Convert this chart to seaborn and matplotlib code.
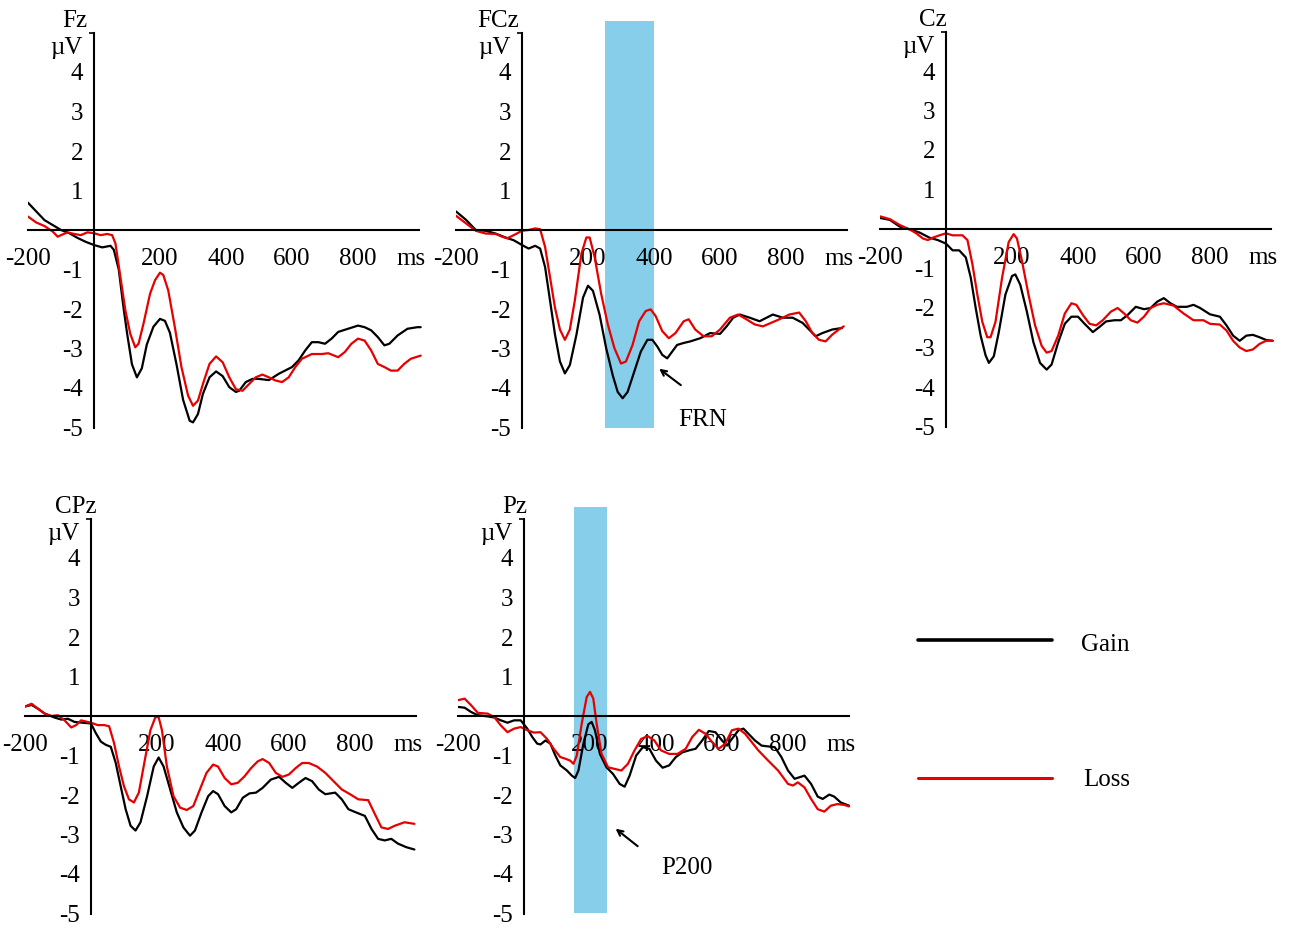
import numpy as np
import matplotlib
matplotlib.use('Agg')
import matplotlib.pyplot as plt
import seaborn as sns

# ---- data (ms, microvolts) ----
fz_gain_t = [-200, -150, -100, -75, -50, -25, 0, 25, 50, 60, 75, 90, 100, 115, 130, 145, 160, 180, 200, 215,
             230, 250, 270, 290, 300, 315, 330, 350, 370, 390, 410, 430, 440, 460, 480, 500, 530, 560, 600,
             620, 640, 660, 680, 700, 720, 740, 770, 800, 820, 840, 860, 880, 895, 920, 950, 980, 990]
fz_gain_v = [0.69, 0.25, 0.0, -0.08, -0.2, -0.3, -0.38, -0.44, -0.4, -0.5, -1.0, -2.0, -2.6, -3.4, -3.73, -3.5,
             -2.9, -2.45, -2.25, -2.3, -2.6, -3.4, -4.3, -4.83, -4.87, -4.66, -4.15, -3.73, -3.58, -3.7, -3.98,
             -4.1, -4.07, -3.85, -3.77, -3.77, -3.8, -3.64, -3.47, -3.3, -3.05, -2.84, -2.84, -2.88, -2.75, -2.58,
             -2.5, -2.42, -2.46, -2.54, -2.71, -2.92, -2.88, -2.67, -2.5, -2.46, -2.46]
fz_loss_t = [-200, -175, -150, -125, -110, -100, -80, -60, -40, -20, 0, 20, 40, 55, 65, 80, 95, 110, 125, 135,
             150, 170, 185, 200, 210, 225, 245, 265, 285, 300, 315, 330, 350, 370, 390, 410, 430, 450, 470, 490,
             510, 530, 550, 570, 590, 610, 630, 660, 690, 710, 740, 760, 780, 800, 820, 840, 860, 880, 900, 920,
             940, 960, 990]
fz_loss_v = [0.34, 0.19, 0.1, -0.04, -0.17, -0.13, -0.06, -0.1, -0.13, -0.06, -0.08, -0.13, -0.1, -0.13, -0.34,
             -1.19, -2.03, -2.63, -2.97, -2.88, -2.37, -1.61, -1.27, -1.08, -1.14, -1.53, -2.46, -3.47, -4.19,
             -4.45, -4.32, -3.9, -3.39, -3.2, -3.35, -3.73, -4.03, -4.07, -3.9, -3.73, -3.66, -3.73, -3.81, -3.85,
             -3.73, -3.47, -3.26, -3.14, -3.14, -3.12, -3.22, -3.09, -2.88, -2.75, -2.8, -3.05, -3.39, -3.47,
             -3.56, -3.56, -3.39, -3.26, -3.18]

fcz_gain_t = [-200, -170, -140, -110, -80, -50, -25, 0, 20, 40, 55, 70, 85, 100, 115, 130, 145, 165, 185, 200,
              215, 235, 255, 275, 290, 305, 320, 340, 360, 380, 395, 410, 425, 440, 455, 470, 490, 510, 540, 570,
              600, 620, 640, 660, 690, 720, 760, 790, 820, 850, 870, 890, 910, 940, 970]
fcz_gain_v = [0.47, 0.26, 0.0, -0.02, -0.09, -0.19, -0.26, -0.38, -0.47, -0.4, -0.47, -0.94, -1.79, -2.65, -3.33,
              -3.63, -3.42, -2.65, -1.71, -1.41, -1.54, -2.14, -2.99, -3.68, -4.1, -4.26, -4.1, -3.59, -3.08,
              -2.78, -2.78, -2.95, -3.16, -3.25, -3.08, -2.91, -2.86, -2.82, -2.74, -2.61, -2.63, -2.44, -2.22,
              -2.14, -2.22, -2.31, -2.14, -2.22, -2.22, -2.35, -2.52, -2.69, -2.61, -2.52, -2.48]
fcz_loss_t = [-200, -170, -140, -110, -80, -60, -45, -25, 0, 20, 40, 55, 70, 85, 100, 115, 130, 145, 160, 180,
              195, 205, 220, 240, 260, 280, 300, 315, 335, 355, 375, 390, 405, 425, 445, 465, 490, 505, 525, 550,
              575, 600, 630, 655, 680, 705, 730, 755, 780, 810, 840, 860, 880, 900, 920, 940, 960, 975]
fcz_loss_v = [0.36, 0.17, -0.02, -0.09, -0.1, -0.17, -0.21, -0.13, -0.02, 0.0, 0.04, 0.02, -0.43, -1.2, -1.97,
              -2.52, -2.78, -2.52, -1.79, -0.6, -0.19, -0.19, -0.68, -1.62, -2.39, -2.99, -3.38, -3.33, -2.91,
              -2.31, -2.05, -2.01, -2.18, -2.56, -2.74, -2.61, -2.31, -2.26, -2.52, -2.69, -2.69, -2.52, -2.22,
              -2.14, -2.26, -2.39, -2.44, -2.35, -2.26, -2.14, -2.09, -2.31, -2.61, -2.78, -2.82, -2.65, -2.52,
              -2.44]

cz_gain_t = [-200, -170, -140, -110, -80, -50, -25, 0, 20, 40, 60, 75, 90, 105, 120, 130, 145, 160, 180, 200,
             210, 225, 245, 265, 285, 305, 320, 340, 360, 380, 400, 420, 445, 465, 485, 510, 530, 550, 575, 600,
             620, 640, 660, 680, 700, 730, 750, 770, 800, 830, 850, 870, 890, 910, 930, 950, 970, 990]
cz_gain_v = [0.28, 0.23, 0.06, -0.01, -0.09, -0.22, -0.28, -0.37, -0.54, -0.54, -0.72, -1.23, -2.0, -2.7, -3.2,
             -3.39, -3.22, -2.61, -1.66, -1.19, -1.15, -1.41, -2.09, -2.87, -3.39, -3.56, -3.43, -2.87, -2.4,
             -2.22, -2.22, -2.4, -2.61, -2.48, -2.34, -2.31, -2.31, -2.18, -1.97, -2.03, -2.0, -1.84, -1.75,
             -1.88, -1.97, -1.97, -1.92, -2.0, -2.16, -2.22, -2.44, -2.7, -2.83, -2.7, -2.68, -2.74, -2.81, -2.83]
cz_loss_t = [-200, -170, -140, -110, -90, -70, -55, -40, -20, 0, 20, 50, 65, 80, 95, 110, 125, 135, 150, 170,
             190, 205, 215, 230, 250, 270, 290, 305, 320, 340, 360, 380, 395, 415, 435, 455, 475, 500, 520, 540,
             560, 580, 600, 620, 640, 660, 690, 720, 750, 780, 800, 830, 850, 870, 890, 910, 930, 950, 970, 990]
cz_loss_v = [0.32, 0.25, 0.1, -0.01, -0.11, -0.24, -0.28, -0.22, -0.16, -0.11, -0.16, -0.16, -0.28, -0.89, -1.66,
             -2.35, -2.74, -2.74, -2.35, -1.23, -0.33, -0.13, -0.24, -0.8, -1.66, -2.44, -2.96, -3.13, -3.09,
             -2.7, -2.14, -1.88, -1.92, -2.18, -2.4, -2.44, -2.31, -2.09, -2.0, -2.14, -2.31, -2.37, -2.22, -2.0,
             -1.92, -1.88, -1.94, -2.14, -2.31, -2.31, -2.4, -2.42, -2.57, -2.83, -3.0, -3.09, -3.05, -2.91,
             -2.83, -2.83]

cpz_gain_t = [-200, -180, -160, -140, -110, -90, -70, -50, -25, 0, 15, 30, 45, 60, 75, 90, 105, 120, 135, 150,
              170, 190, 205, 220, 240, 260, 280, 300, 315, 335, 355, 370, 385, 405, 425, 440, 460, 480, 500, 520,
              545, 570, 590, 610, 630, 650, 670, 690, 710, 740, 760, 780, 800, 830, 850, 870, 890, 910, 930, 955,
              980]
cpz_gain_v = [0.24, 0.28, 0.18, 0.06, -0.04, -0.09, -0.07, -0.15, -0.17, -0.19, -0.44, -0.65, -0.73, -0.78,
              -1.19, -1.78, -2.36, -2.78, -2.9, -2.69, -2.03, -1.28, -1.05, -1.28, -1.86, -2.44, -2.82, -3.03,
              -2.9, -2.44, -2.03, -1.9, -1.98, -2.28, -2.44, -2.36, -2.07, -1.96, -1.94, -1.82, -1.61, -1.54,
              -1.69, -1.82, -1.69, -1.57, -1.65, -1.86, -1.98, -1.94, -2.11, -2.36, -2.43, -2.53, -2.86, -3.11,
              -3.15, -3.11, -3.23, -3.32, -3.38]
cpz_loss_t = [-200, -180, -160, -140, -120, -100, -80, -60, -45, -30, 0, 20, 40, 55, 70, 85, 100, 115, 130, 145,
              165, 180, 195, 205, 215, 230, 250, 270, 290, 310, 330, 350, 370, 385, 405, 425, 445, 465, 485, 505,
              520, 540, 560, 580, 600, 620, 640, 660, 685, 710, 735, 760, 785, 810, 840, 860, 880, 900, 920, 950,
              980]
cpz_loss_v = [0.24, 0.31, 0.18, 0.06, 0.0, 0.02, -0.11, -0.29, -0.23, -0.11, -0.17, -0.23, -0.23, -0.26, -0.69,
              -1.28, -1.78, -2.11, -2.19, -1.94, -1.03, -0.36, -0.03, -0.03, -0.36, -1.28, -2.03, -2.32, -2.38,
              -2.28, -1.86, -1.44, -1.23, -1.28, -1.57, -1.73, -1.69, -1.53, -1.32, -1.15, -1.09, -1.19, -1.44,
              -1.54, -1.48, -1.32, -1.19, -1.19, -1.28, -1.44, -1.65, -1.86, -1.98, -2.11, -2.13, -2.48, -2.82,
              -2.86, -2.78, -2.69, -2.73]

pz_gain_t = [-200, -180, -160, -140, -110, -90, -70, -50, -30, -10, 10, 25, 40, 50, 65, 80, 95, 110, 130, 145,
             155, 165, 180, 195, 205, 215, 230, 250, 270, 290, 305, 320, 340, 360, 380, 400, 420, 440, 460, 480,
             500, 520, 540, 560, 580, 600, 615, 630, 650, 665, 680, 700, 720, 740, 760, 780, 800, 820, 835, 850,
             870, 890, 905, 925, 940, 960, 985]
pz_gain_v = [0.23, 0.21, 0.1, 0.02, -0.01, -0.04, -0.11, -0.17, -0.11, -0.11, -0.32, -0.53, -0.7, -0.72, -0.62,
             -0.7, -1.0, -1.25, -1.38, -1.51, -1.57, -1.38, -0.7, -0.21, -0.15, -0.36, -0.96, -1.3, -1.47, -1.72,
             -1.79, -1.51, -1.0, -0.79, -0.83, -1.13, -1.31, -1.25, -1.04, -0.92, -0.87, -0.83, -0.62, -0.38,
             -0.41, -0.62, -0.75, -0.58, -0.36, -0.32, -0.45, -0.62, -0.75, -0.77, -0.79, -1.04, -1.38, -1.59,
             -1.55, -1.51, -1.72, -2.04, -2.1, -1.99, -2.04, -2.19, -2.27]
pz_loss_t = [-200, -180, -160, -140, -110, -90, -70, -50, -30, -10, 10, 30, 50, 70, 90, 110, 125, 140, 150, 160,
             175, 190, 200, 210, 220, 235, 255, 275, 295, 315, 335, 355, 375, 395, 415, 440, 465, 490, 510, 530,
             550, 570, 590, 610, 630, 650, 670, 690, 710, 740, 770, 800, 815, 830, 850, 870, 890, 910, 930, 950,
             970, 985]
pz_loss_v = [0.4, 0.44, 0.27, 0.08, 0.06, -0.03, -0.24, -0.41, -0.32, -0.28, -0.36, -0.42, -0.41, -0.58, -0.83,
             -1.04, -1.08, -1.13, -1.21, -1.0, -0.19, 0.48, 0.61, 0.44, -0.19, -0.96, -1.3, -1.34, -1.38, -1.21,
             -0.87, -0.58, -0.51, -0.62, -0.87, -0.96, -0.96, -0.83, -0.53, -0.35, -0.45, -0.66, -0.83, -0.7,
             -0.36, -0.32, -0.45, -0.66, -0.87, -1.13, -1.38, -1.72, -1.76, -1.68, -1.81, -2.1, -2.36, -2.42,
             -2.27, -2.23, -2.25, -2.29]

channels = ['Fz', 'FCz', 'Cz', 'CPz', 'Pz']
gain_t = [fz_gain_t, fcz_gain_t, cz_gain_t, cpz_gain_t, pz_gain_t]
gain_v = [fz_gain_v, fcz_gain_v, cz_gain_v, cpz_gain_v, pz_gain_v]
loss_t = [fz_loss_t, fcz_loss_t, cz_loss_t, cpz_loss_t, pz_loss_t]
loss_v = [fz_loss_v, fcz_loss_v, cz_loss_v, cpz_loss_v, pz_loss_v]

# highlighted windows (ms)
windows = {'FCz': (250, 400), 'Pz': (150, 250)}

x_major = [-200, 200, 400, 600, 800, 960]
x_labels = ['-200', '200', '400', '600', '800', 'ms']
y_major = [-5, -4, -3, -2, -1, 1, 2, 3, 4]
y_labels = ['-5', '-4', '-3', '-2', '-1', '1', '2', '3', '4']

# ---- style ----
sns.set_style('white')
plt.rcParams['font.family'] = ['Liberation Serif', 'DejaVu Serif']
plt.rcParams['axes.unicode_minus'] = False
plt.rcParams['text.color'] = 'black'
plt.rcParams['xtick.color'] = 'black'
plt.rcParams['ytick.color'] = 'black'

RED = '#e60000'
W, H = 1300, 936
fig = plt.figure(figsize=(W / 100, H / 100), dpi=100)

PX_MS = 0.33      # pixels per ms
PX_UV = 39.5      # pixels per microvolt
XLIM = (-200, 1000)
YLIM = (-5, 5.4)
ax_w = (XLIM[1] - XLIM[0]) * PX_MS
ax_h = (YLIM[1] - YLIM[0]) * PX_UV

# origin (0 ms, 0 uV) of each panel in pixels
origins = [(94, 230), (522, 230), (946, 229), (91, 716), (524, 716)]
label_dx = [-20, -10, 3, 18, 10]

for i, ch in enumerate(channels):
    ox, oy = origins[i]
    left = ox - (0 - XLIM[0]) * PX_MS
    top = oy - YLIM[1] * PX_UV
    ax = fig.add_axes([left / W, 1 - (top + ax_h) / H, ax_w / W, ax_h / H])
    ax.set_xlim(*XLIM)
    ax.set_ylim(*YLIM)
    ax.set_axisbelow(False)

    if ch in windows:
        a, b = windows[ch]
        ax.fill_between([a, b], -5, 5.3, color='#87CEEB', lw=0, zorder=1)

    sns.lineplot(x=gain_t[i], y=gain_v[i], ax=ax, color='black', lw=1.6, zorder=3)
    sns.lineplot(x=loss_t[i], y=loss_v[i], ax=ax, color=RED, lw=1.6, zorder=4)

    for s in ['top', 'right']:
        ax.spines[s].set_visible(False)
    ax.spines['left'].set_position(('data', 0))
    ax.spines['bottom'].set_position(('data', 0))
    ax.spines['left'].set_bounds(-5, 5)
    ax.spines['bottom'].set_bounds(-200, 985)
    for s in ['left', 'bottom']:
        ax.spines[s].set_linewidth(1.5)
        ax.spines[s].set_color('black')
        ax.spines[s].set_zorder(5)

    ax.set_xticks(x_major)
    ax.set_xticklabels(x_labels)
    ax.set_xticks(np.arange(-200, 1000, 100), minor=True)
    ax.set_yticks(y_major)
    ax.set_yticklabels(y_labels)
    ax.set_yticks(np.arange(-5, 6, 1), minor=True)
    ax.tick_params(axis='x', which='major', length=0, pad=13, labelsize=18)
    ax.tick_params(axis='x', which='minor', length=3.5, width=1.2, direction='in')
    ax.tick_params(axis='y', which='major', length=0, pad=8, labelsize=18)
    ax.tick_params(axis='y', which='minor', length=3.5, width=1.2, direction='out', left=True)
    ax.set_xlabel('')
    ax.set_ylabel('')

    ax.text(label_dx[i], 5.3, ch, ha='right', va='center', fontsize=18)
    ax.text(-35, 4.6, 'µV', ha='right', va='center', fontsize=18)

    if ch == 'FCz':
        ax.annotate('', xy=(409, -3.47), xytext=(488, -3.97),
                    arrowprops=dict(arrowstyle='->', color='black', lw=1.5))
        ax.text(548, -4.81, 'FRN', ha='center', va='center', fontsize=18)
    if ch == 'Pz':
        ax.annotate('', xy=(271, -2.81), xytext=(351, -3.34),
                    arrowprops=dict(arrowstyle='->', color='black', lw=1.5))
        ax.text(494, -3.85, 'P200', ha='center', va='center', fontsize=18)

# legend drawn by hand on an overlay
leg = fig.add_axes([0, 0, 1, 1])
leg.set_xlim(0, W)
leg.set_ylim(H, 0)
leg.axis('off')
leg.plot([918, 1052], [640, 640], color='black', lw=2.6)
leg.plot([918, 1052], [778, 778], color=RED, lw=2.2)
leg.text(1081, 645, 'Gain', ha='left', va='center', fontsize=18)
leg.text(1083, 780, 'Loss', ha='left', va='center', fontsize=18)

fig.savefig('out.png', dpi=100)
